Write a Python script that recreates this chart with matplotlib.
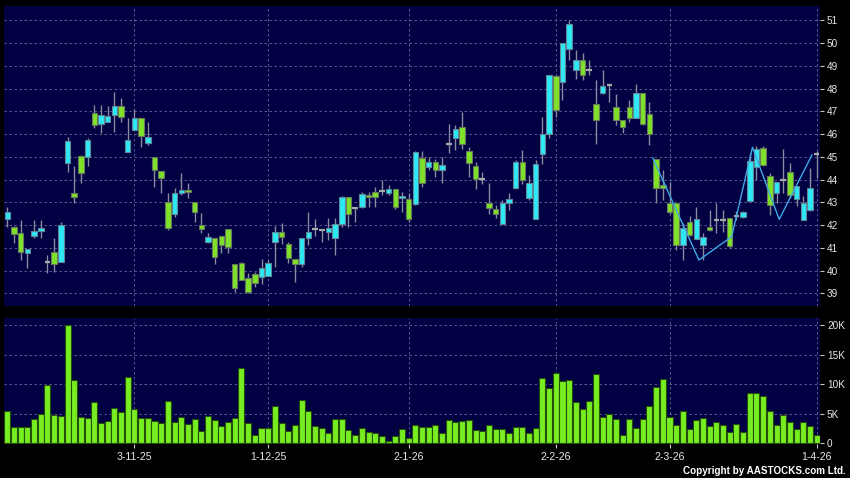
import matplotlib.pyplot as plt
import numpy as np

plt.rcParams['font.family'] = ['Liberation Sans', 'DejaVu Sans']

dates = ['3-11-25', '1-12-25', '2-1-26', '2-2-26', '2-3-26', '1-4-26']
date_pos = [19, 39, 60, 82, 99, 121]

opens = [42.25, 41.90, 41.64, 40.79, 41.53, 41.73, 40.36, 40.83, 40.39, 44.71,
         43.40, 45.04, 44.98, 46.91, 46.43, 46.52, 46.82, 47.23, 45.20, 46.18,
         46.69, 45.59, 45.01, 44.39, 43.00, 42.49, 43.40, 43.54, 43.03, 42.00,
         41.27, 41.42, 41.53, 41.81, 40.27, 40.32, 39.66, 39.85, 39.70, 39.76,
         41.27, 41.68, 41.15, 40.51, 40.27, 41.42, 41.83, 41.78, 41.68, 41.42,
         42.03, 43.22, 42.74, 42.81, 43.32, 43.47, 43.51, 43.42, 43.57, 43.18,
         43.13, 42.93, 44.95, 44.55, 44.77, 44.44, 45.58, 45.84, 46.31, 45.26,
         44.60, 44.01, 42.97, 42.72, 42.06, 42.99, 43.64, 44.77, 43.21, 42.28,
         45.14, 46.01, 48.54, 48.29, 49.75, 48.80, 49.27, 48.80, 47.33, 47.80,
         48.14, 47.19, 46.63, 47.19, 46.72, 47.80, 46.89, 44.91, 43.75, 42.96,
         42.96, 41.13, 42.12, 41.40, 41.10, 41.91, 42.24, 42.21, 42.31, 42.38,
         42.35, 43.07, 44.54, 45.40, 44.15, 43.41, 43.96, 44.32, 43.15, 42.22,
         42.65, 45.13]
highs = [42.81, 41.95, 42.22, 40.95, 42.22, 42.22, 40.69, 41.42, 42.15, 45.89,
         44.60, 45.08, 45.81, 47.28, 47.28, 47.23, 47.86, 47.57, 46.69, 47.09,
         46.69, 46.54, 45.01, 44.39, 43.40, 43.62, 44.27, 43.84, 43.03, 42.55,
         41.67, 41.42, 41.53, 41.81, 40.27, 40.39, 39.88, 39.95, 40.49, 40.47,
         41.96, 42.07, 41.27, 40.51, 41.42, 42.59, 42.27, 41.78, 42.30, 42.30,
         43.28, 43.22, 42.74, 43.47, 43.47, 43.69, 43.98, 43.76, 43.60, 43.47,
         43.42, 45.25, 45.26, 44.99, 44.92, 44.99, 46.46, 46.38, 46.97, 45.43,
         44.77, 44.33, 43.85, 42.87, 43.09, 43.41, 44.85, 45.31, 44.19, 44.85,
         46.75, 48.60, 48.60, 50.02, 51.03, 49.71, 49.56, 49.27, 48.36, 48.83,
         48.14, 47.77, 46.63, 47.48, 48.18, 47.80, 47.41, 44.91, 44.40, 43.90,
         42.96, 42.09, 42.38, 42.79, 41.65, 42.65, 42.97, 42.68, 42.31, 42.60,
         42.60, 45.18, 45.47, 45.47, 44.29, 43.90, 45.35, 44.74, 43.71, 43.26,
         44.51, 45.25]
lows = [41.93, 41.23, 40.47, 40.13, 41.42, 41.42, 39.88, 39.95, 40.39, 44.35,
        42.99, 43.86, 44.60, 46.25, 46.03, 46.52, 46.11, 46.52, 45.20, 46.18,
        45.44, 45.50, 43.66, 43.42, 41.78, 42.34, 43.32, 43.18, 42.15, 41.64,
        41.20, 40.29, 40.76, 40.76, 39.07, 39.59, 39.00, 39.29, 39.41, 39.76,
        40.17, 41.15, 40.32, 39.51, 40.17, 41.12, 41.52, 41.27, 41.34, 40.68,
        41.91, 41.93, 42.15, 42.74, 42.81, 42.81, 43.32, 43.32, 42.70, 42.59,
        42.15, 42.90, 43.67, 44.41, 44.11, 43.85, 45.17, 45.29, 45.36, 44.11,
        43.60, 43.79, 42.47, 42.33, 42.06, 42.68, 43.60, 43.82, 43.09, 42.28,
        44.67, 45.84, 46.75, 47.51, 49.24, 48.43, 48.36, 48.58, 45.57, 47.77,
        47.41, 46.38, 46.04, 46.53, 46.72, 46.40, 45.50, 42.96, 43.11, 42.50,
        40.91, 40.47, 41.50, 41.40, 40.47, 41.72, 41.65, 41.68, 40.99, 42.24,
        42.31, 43.04, 43.98, 44.60, 42.46, 42.97, 43.41, 43.19, 42.82, 42.20,
        42.60, 44.07]
closes = [42.56, 41.61, 40.80, 40.93, 41.73, 41.86, 40.36, 40.29, 42.00, 45.70,
          43.22, 44.27, 45.74, 46.41, 46.82, 46.79, 47.23, 46.77, 45.74, 46.69,
          45.93, 45.86, 44.42, 44.05, 41.86, 43.40, 43.54, 43.44, 42.59, 41.81,
          41.46, 40.58, 41.10, 41.02, 39.22, 39.59, 39.07, 39.44, 40.13, 40.32,
          41.68, 41.49, 40.54, 40.27, 41.42, 41.68, 41.83, 41.78, 41.86, 42.03,
          43.22, 42.49, 42.74, 43.35, 43.22, 43.25, 43.51, 43.57, 42.78, 43.29,
          42.25, 45.22, 43.85, 44.77, 44.44, 44.66, 45.58, 46.24, 45.55, 44.74,
          44.04, 44.01, 42.77, 42.50, 42.97, 43.16, 44.77, 44.00, 43.85, 44.70,
          46.02, 48.58, 47.04, 50.02, 50.82, 49.24, 48.58, 48.80, 46.63, 48.10,
          48.14, 46.63, 46.31, 46.72, 47.80, 46.45, 45.99, 43.64, 43.65, 42.57,
          41.10, 41.87, 41.57, 42.26, 41.47, 41.76, 42.24, 42.21, 41.09, 42.38,
          42.56, 44.81, 45.35, 44.66, 42.90, 43.90, 43.96, 43.34, 43.71, 42.96,
          43.63, 45.13]
volume = [5500, 2830, 2720, 2830, 4080, 4990, 9920, 4870, 4700, 20100,
          10760, 4420, 4250, 6970, 3400, 3800, 6010, 5270, 11330, 5840,
          4310, 4310, 3800, 3400, 7250, 3680, 4530, 3290, 4190, 2150,
          4650, 3970, 2950, 3630, 4310, 12750, 3460, 1360, 2550, 2660,
          6290, 3510, 2150, 3120, 7370, 5550, 2950, 2550, 1760, 4080,
          4080, 2270, 1420, 2550, 1980, 1700, 1190, 340, 1250, 2380,
          910, 3120, 2830, 2720, 3060, 1810, 3970, 3680, 3800, 3970,
          2270, 2040, 3170, 2380, 2380, 1810, 2720, 2720, 1700, 2610,
          11050, 9350, 12010, 10590, 10760, 7030, 5780, 7140, 11730, 4420,
          4990, 4190, 1420, 4190, 2550, 4190, 6400, 9630, 10880, 4420,
          3060, 5550, 2380, 3970, 4250, 2950, 3680, 3120, 1980, 3230,
          1980, 8500, 8500, 8050, 5500, 3120, 4820, 3680, 2440, 3680,
          2950, 1420]

# thin blue line over the last weeks
line_x = [96.5, 103.4, 108.3, 111.4, 115.4, 120.3]
line_y = [44.95, 40.46, 41.49, 45.42, 42.25, 45.08]

o = np.array(opens)
h = np.array(highs)
l = np.array(lows)
c = np.array(closes)
x = np.arange(len(o))
up = c > o
down = c < o
doji = c == o

bg = '#000042'
grid_kw = dict(color='#66669a', ls=(0, (3, 3)), lw=0.6)

fig = plt.figure(figsize=(8.5, 4.78), dpi=100, facecolor='black')
ax1 = fig.add_axes([4 / 850, 1 - 306 / 478, 816 / 850, 300 / 478], facecolor=bg)
ax2 = fig.add_axes([4 / 850, 1 - 444 / 478, 816 / 850, 126 / 478], facecolor=bg)

# price panel
ax1.vlines(x, l, h, color='#8a8aa0', lw=1, zorder=2)
ax1.bar(x[up], (c - o)[up], bottom=o[up], width=0.82, color='#2ee8f6',
        edgecolor='#5f8796', lw=0.8, zorder=3)
ax1.bar(x[down], (o - c)[down], bottom=c[down], width=0.82, color='#7fe12a',
        edgecolor='#667a5a', lw=0.8, zorder=3)
ax1.hlines(c[doji], x[doji] - 0.42, x[doji] + 0.42, color='#a8a8a8', lw=1.6, zorder=3)
ax1.plot(line_x, line_y, color='#3fa9e6', lw=1, zorder=4)

ax1.set_xlim(-0.5, 121.5)
ax1.set_ylim(38.44, 51.63)
ax1.set_yticks(range(39, 52))
ax1.set_xticks(date_pos)
ax1.set_xticklabels([])
ax1.grid(True, **grid_kw)
ax1.set_axisbelow(True)

# volume panel
ax2.bar(x, volume, width=0.9, color='#78ee22', edgecolor='#24500c', lw=0.8, zorder=3)
ax2.set_xlim(-0.5, 121.5)
ax2.set_ylim(-120, 21260)
ax2.set_yticks([0, 5000, 10000, 15000, 20000])
ax2.set_yticklabels(['0', '5K', '10K', '15K', '20K'])
ax2.set_xticks(date_pos)
ax2.set_xticklabels(dates)
ax2.grid(True, **grid_kw)
ax2.set_axisbelow(True)

for ax in (ax1, ax2):
    for s in ax.spines.values():
        s.set_visible(False)
    ax.yaxis.tick_right()
    ax.tick_params(axis='y', length=3, width=0.8, color='#c8c8c8', pad=2,
                   labelcolor='#e8e8e8', labelsize=7.2)
ax1.tick_params(axis='x', length=0)
ax2.tick_params(axis='x', length=3, width=0.8, color='#c8c8c8', pad=3,
                labelcolor='#e8e8e8', labelsize=7.6)

fig.text(846 / 850, 1 - 471 / 478, 'Copyright by AASTOCKS.com Ltd.', ha='right',
         va='center', color='white', fontsize=7.1, fontweight='bold')

fig.savefig('out.png', dpi=100, facecolor='black')
